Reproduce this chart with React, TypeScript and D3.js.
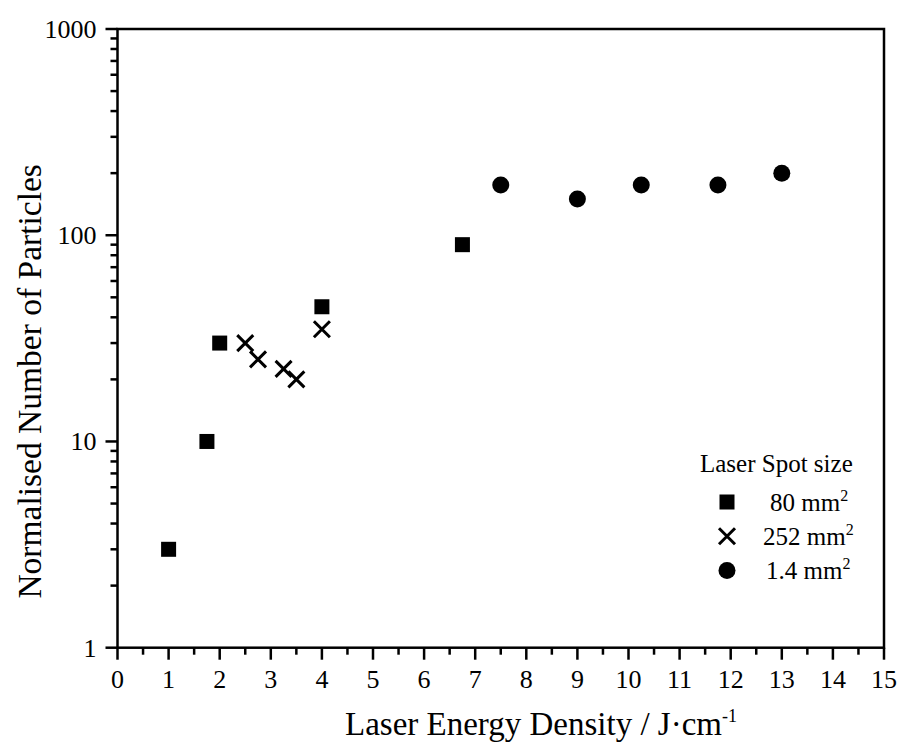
import React from 'react';
import * as d3 from 'd3';

// laser energy density (J/cm) vs normalised particle count
const spot80x = [1, 1.75, 2, 4, 6.75];
const spot80y = [3, 10, 30, 45, 90];
const spot252x = [2.5, 2.75, 3.25, 3.5, 4];
const spot252y = [30, 25, 22.5, 20, 35];
const spot14x = [7.5, 9, 10.25, 11.75, 13];
const spot14y = [175, 150, 175, 175, 200];

const xTicks = d3.range(0, 16);
const xMinor = d3.range(0.5, 15, 1);
const yTicks = [1, 10, 100, 1000];
const yMinor = [1, 10, 100].flatMap(d => d3.range(2, 10).map(k => d * k));
const legendTitle = 'Laser Spot size';
const legendLabels = ['80 mm', '252 mm', '1.4 mm'];
const legendShapes = ['square', 'cross', 'circle'];

const W = 904;
const H = 745;
const FONT = 'Liberation Serif';

const x = d3.scaleLinear().domain([0, 15]).range([117.5, 884]);
const y = d3.scaleLog().domain([1, 1000]).range([647.7, 29]);

const Marker = ({ shape, cx, cy }) => {
  if (shape === 'square') return <rect x={cx - 7.5} y={cy - 7.5} width={15} height={15} fill='#000' />;
  if (shape === 'circle') return <circle cx={cx} cy={cy} r={8.5} fill='#000' />;
  return (
    <path d={`M${cx - 8},${cy - 8}L${cx + 8},${cy + 8}M${cx - 8},${cy + 8}L${cx + 8},${cy - 8}`}
      stroke='#000' strokeWidth={3} fill='none' />
  );
};

const App = () => {
  const [x0, x1] = x.range();
  const [y0, y1] = y.range();
  const textX = [770, 763, 766];

  return (
    <svg width={W} height={H}
      style={{ display: 'block', position: 'absolute', left: 0, top: 0, background: '#fff' }}>
      {/* frame */}
      <rect x={x0} y={y1} width={x1 - x0} height={y0 - y1} fill='none' stroke='#000' strokeWidth={2.5} />

      {/* ticks */}
      <g stroke='#000' strokeWidth={2.5}>
        {xMinor.map(d => <line key={'xm' + d} x1={x(d)} x2={x(d)} y1={y0} y2={y0 + 7} />)}
        {xTicks.map(d => <line key={'xt' + d} x1={x(d)} x2={x(d)} y1={y0} y2={y0 + 12} />)}
        {yMinor.map(d => <line key={'ym' + d} x1={x0} x2={x0 - 7} y1={y(d)} y2={y(d)} />)}
        {yTicks.map(d => <line key={'yt' + d} x1={x0} x2={x0 - 12} y1={y(d)} y2={y(d)} />)}
      </g>
      {xTicks.map(d => (
        <text key={'xl' + d} x={x(d)} y={688} textAnchor='middle' fontSize={26} fontFamily={FONT}>{d}</text>
      ))}
      {yTicks.map(d => (
        <text key={'yl' + d} x={x0 - 21} y={y(d) + 9} textAnchor='end' fontSize={26} fontFamily={FONT}>{d}</text>
      ))}

      {/* axis titles */}
      <text x={345} y={735} fontSize={33} fontFamily={FONT}>
        Laser Energy Density / J·cm<tspan dy={-13} fontSize={18} fontFamily={FONT}>-1</tspan>
      </text>
      <text transform={`translate(41,${(y0 + y1) / 2 + 43}) rotate(-90)`} textAnchor='middle'
        fontSize={33.5} fontFamily={FONT}>
        Normalised Number of Particles
      </text>

      {/* points */}
      <g>
        {spot80x.map((d, i) => <Marker key={'a' + i} shape='square' cx={x(d)} cy={y(spot80y[i])} />)}
        {spot252x.map((d, i) => <Marker key={'b' + i} shape='cross' cx={x(d)} cy={y(spot252y[i])} />)}
        {spot14x.map((d, i) => <Marker key={'c' + i} shape='circle' cx={x(d)} cy={y(spot14y[i])} />)}
      </g>

      {/* legend */}
      <text x={700} y={472} fontSize={25} fontFamily={FONT}>{legendTitle}</text>
      {legendLabels.map((label, i) => {
        const cy = 502 + i * 34.3;
        return (
          <g key={label}>
            <Marker shape={legendShapes[i]} cx={727} cy={cy} />
            <text x={textX[i]} y={cy + 8.5} fontSize={25} fontFamily={FONT}>
              {label}<tspan dy={-10} fontSize={16} fontFamily={FONT}>2</tspan>
            </text>
          </g>
        );
      })}
    </svg>
  );
};

export default App;
